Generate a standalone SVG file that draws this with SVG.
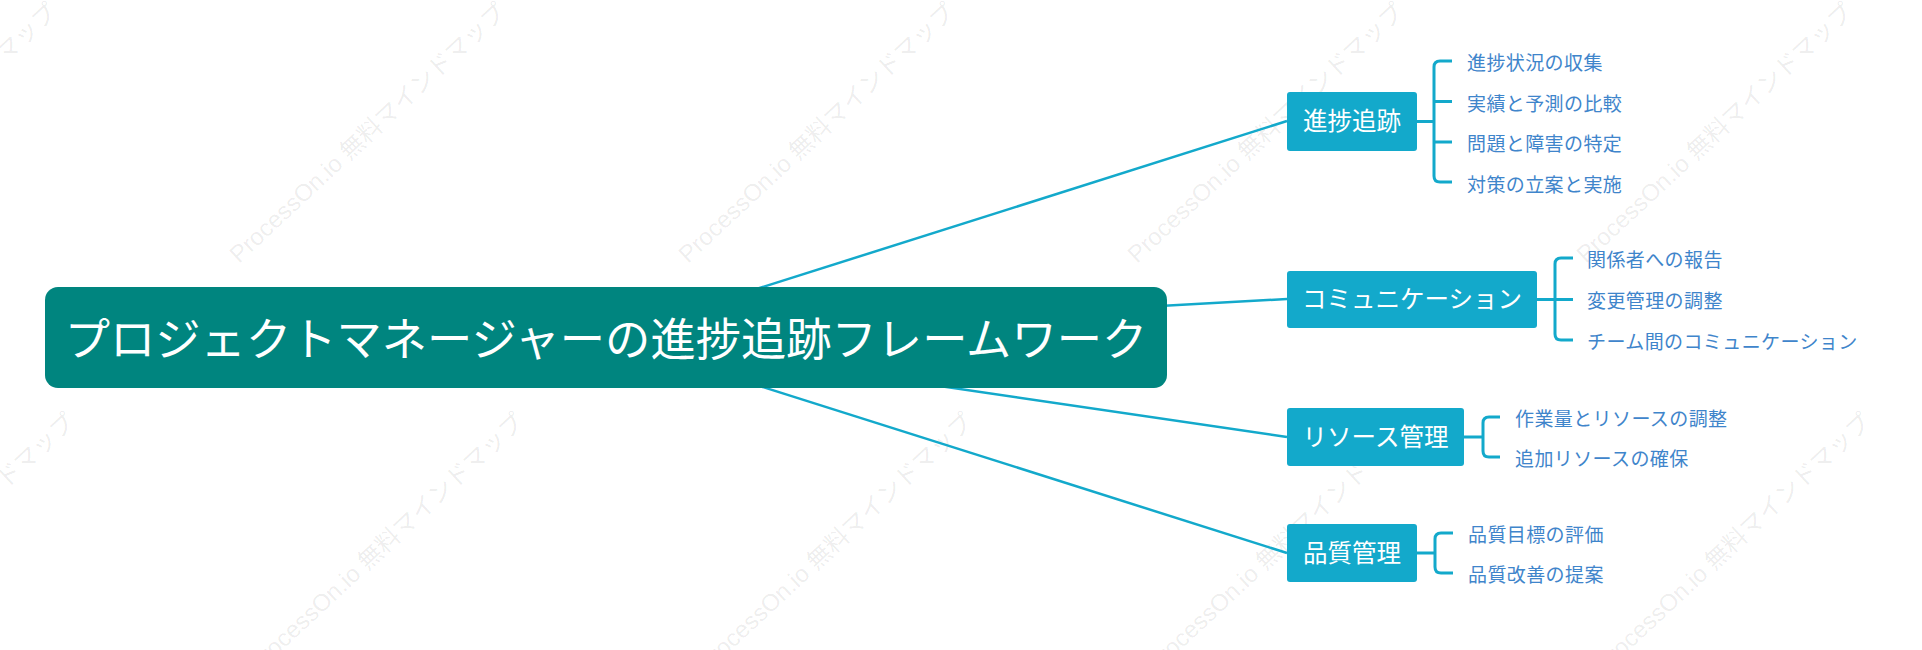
<svg xmlns="http://www.w3.org/2000/svg" width="1922" height="650" viewBox="0 0 1922 650">
<style>
.wm{font-family:"Liberation Sans","Noto Sans CJK JP",sans-serif;font-size:24px;fill:#000;fill-opacity:0.08}
.root{fill:#00857f}
.rootText{font-family:"Noto Sans CJK JP","Noto Sans",sans-serif;font-size:45.3px;fill:#ffffff;text-anchor:middle}
.branch{fill:#13a9cb}
.branchText{font-family:"Noto Sans CJK JP","Noto Sans",sans-serif;font-size:24.5px;fill:#ffffff;text-anchor:middle}
.leaf{font-family:"Noto Sans CJK JP","Noto Sans",sans-serif;font-size:19px;letter-spacing:0.4px;fill:#3f85cb}
.conn{stroke:#13a9cb;stroke-width:2.5;fill:none}
.brk{stroke:#13a9cb;stroke-width:3;fill:none;stroke-linecap:butt}
</style>
<rect width="1922" height="650" fill="#ffffff"/>
<g id="watermarks">
<text class="wm" transform="translate(-210,264) rotate(-43)">ProcessOn.io 無料マインドマップ</text>
<text class="wm" transform="translate(239,264) rotate(-43)">ProcessOn.io 無料マインドマップ</text>
<text class="wm" transform="translate(688,264) rotate(-43)">ProcessOn.io 無料マインドマップ</text>
<text class="wm" transform="translate(1137,264) rotate(-43)">ProcessOn.io 無料マインドマップ</text>
<text class="wm" transform="translate(1586,264) rotate(-43)">ProcessOn.io 無料マインドマップ</text>
<text class="wm" transform="translate(-192,674) rotate(-43)">ProcessOn.io 無料マインドマップ</text>
<text class="wm" transform="translate(257,674) rotate(-43)">ProcessOn.io 無料マインドマップ</text>
<text class="wm" transform="translate(706,674) rotate(-43)">ProcessOn.io 無料マインドマップ</text>
<text class="wm" transform="translate(1155,674) rotate(-43)">ProcessOn.io 無料マインドマップ</text>
<text class="wm" transform="translate(1604,674) rotate(-43)">ProcessOn.io 無料マインドマップ</text>
</g>
<g id="connectors">
<line class="conn" x1="605" y1="337" x2="1287" y2="121"/>
<line class="conn" x1="605" y1="337" x2="1287" y2="299"/>
<line class="conn" x1="605" y1="337" x2="1287" y2="437"/>
<line class="conn" x1="605" y1="337" x2="1287" y2="553"/>
<path class="brk" d="M1417 121.5H1434 M1452 61H1440Q1434 61 1434 67V176Q1434 182 1440 182H1452 M1434 101.5H1452 M1434 142H1452"/>
<path class="brk" d="M1537 299.5H1555 M1573 258H1561Q1555 258 1555 264V334Q1555 340 1561 340H1573 M1555 299.5H1573"/>
<path class="brk" d="M1464 437H1483 M1500 417H1489Q1483 417 1483 423V451Q1483 457 1489 457H1500"/>
<path class="brk" d="M1417 553H1435 M1453 533H1441Q1435 533 1435 539V567Q1435 573 1441 573H1453"/>
</g>
<g id="root">
<rect class="root" x="45" y="287" width="1122" height="101" rx="13"/>
<text class="rootText" x="606" y="356">プロジェクトマネージャーの進捗追跡フレームワーク</text>
</g>
<g id="n1">
<rect class="branch" x="1287" y="92" width="130" height="59" rx="3"/>
<text class="branchText" x="1352" y="130">進捗追跡</text>
</g>
<g id="n1c1"><text class="leaf" x="1467" y="70">進捗状況の収集</text></g>
<g id="n1c2"><text class="leaf" x="1467" y="111">実績と予測の比較</text></g>
<g id="n1c3"><text class="leaf" x="1467" y="151">問題と障害の特定</text></g>
<g id="n1c4"><text class="leaf" x="1467" y="192">対策の立案と実施</text></g>
<g id="n2">
<rect class="branch" x="1287" y="271" width="250" height="57" rx="3"/>
<text class="branchText" x="1412" y="308">コミュニケーション</text>
</g>
<g id="n2c1"><text class="leaf" x="1587" y="267">関係者への報告</text></g>
<g id="n2c2"><text class="leaf" x="1587" y="308">変更管理の調整</text></g>
<g id="n2c3"><text class="leaf" x="1587" y="349">チーム間のコミュニケーション</text></g>
<g id="n3">
<rect class="branch" x="1287" y="408" width="177" height="58" rx="3"/>
<text class="branchText" x="1375.5" y="446">リソース管理</text>
</g>
<g id="n3c1"><text class="leaf" x="1515" y="426">作業量とリソースの調整</text></g>
<g id="n3c2"><text class="leaf" x="1515" y="466">追加リソースの確保</text></g>
<g id="n4">
<rect class="branch" x="1287" y="524" width="130" height="58" rx="3"/>
<text class="branchText" x="1352" y="562">品質管理</text>
</g>
<g id="n4c1"><text class="leaf" x="1468" y="542">品質目標の評価</text></g>
<g id="n4c2"><text class="leaf" x="1468" y="582">品質改善の提案</text></g>
</svg>
